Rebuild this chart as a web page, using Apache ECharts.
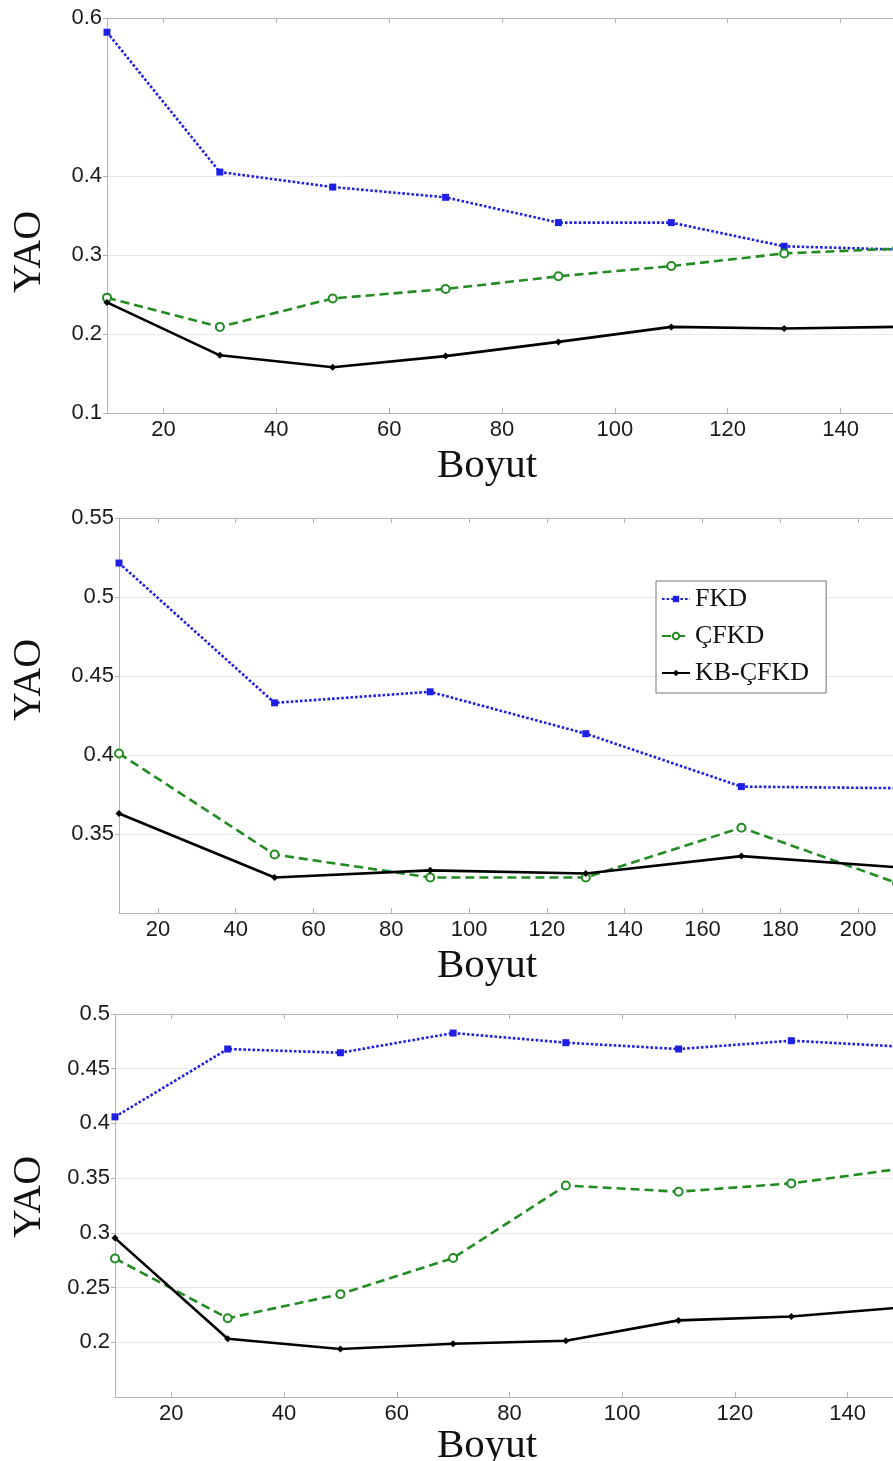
<!DOCTYPE html>
<html>
<head>
<meta charset="utf-8">
<script src="https://cdn.jsdelivr.net/npm/echarts@6/dist/echarts.min.js"></script>
<style>
  html, body { margin: 0; padding: 0; background: #fff; overflow: hidden; }
  #chart { width: 930px; height: 1461px; }
</style>
</head>
<body>
<div id="chart"></div>
<script>
// series names
const names = ["FKD", "ÇFKD", "KB-ÇFKD"];

// panel 1
const boyut1 = [10, 30, 50, 70, 90, 110, 130, 150];
const fkd1 = [0.582, 0.405, 0.386, 0.373, 0.341, 0.341, 0.311, 0.307];
const cfkd1 = [0.246, 0.209, 0.245, 0.257, 0.273, 0.286, 0.302, 0.308];
const kb1 = [0.240, 0.173, 0.158, 0.172, 0.190, 0.209, 0.207, 0.209];
const xTicks1 = [20, 40, 60, 80, 100, 120, 140];
const yTicks1 = [0.1, 0.2, 0.3, 0.4, 0.6];

// panel 2
const boyut2 = [10, 50, 90, 130, 170, 210];
const fkd2 = [0.5215, 0.433, 0.440, 0.4135, 0.380, 0.379];
const cfkd2 = [0.401, 0.337, 0.3225, 0.3225, 0.354, 0.319];
const kb2 = [0.363, 0.3225, 0.327, 0.325, 0.336, 0.329];
const xTicks2 = [20, 40, 60, 80, 100, 120, 140, 160, 180, 200];
const yTicks2 = [0.35, 0.4, 0.45, 0.5, 0.55];

// panel 3
const boyut3 = [10, 30, 50, 70, 90, 110, 130, 150];
const fkd3 = [0.406, 0.468, 0.4646, 0.4826, 0.4738, 0.468, 0.4756, 0.470];
const cfkd3 = [0.2766, 0.222, 0.244, 0.277, 0.3433, 0.3376, 0.3452, 0.359];
const kb3 = [0.2952, 0.2032, 0.1938, 0.1986, 0.2014, 0.220, 0.2236, 0.232];
const xTicks3 = [20, 40, 60, 80, 100, 120, 140];
const yTicks3 = [0.2, 0.25, 0.3, 0.35, 0.4, 0.45, 0.5];

const axisGray = "#b4b4b4";
const sans = "Liberation Sans";
const serif = "Liberation Serif";

function pairs(xs, ys) {
  return xs.map((x, i) => [x, ys[i]]);
}

function bottomX(grid, min, max, ticks) {
  return {
    type: "value", gridIndex: grid, min: min, max: max, position: "bottom",
    axisLine: { lineStyle: { color: axisGray, width: 1 } },
    axisTick: { inside: true, length: 5, customValues: ticks, lineStyle: { color: axisGray } },
    axisLabel: { customValues: ticks, color: "#1a1a1a", fontFamily: sans, fontSize: 22, margin: 6 },
    splitLine: { show: false }
  };
}

function topX(grid, min, max, ticks) {
  return {
    type: "value", gridIndex: grid, min: min, max: max, position: "top",
    axisLine: { lineStyle: { color: axisGray, width: 1 } },
    axisTick: { inside: true, length: 5, customValues: ticks, lineStyle: { color: axisGray } },
    axisLabel: { show: false },
    splitLine: { show: false }
  };
}

function leftY(grid, min, max, ticks) {
  return {
    type: "value", gridIndex: grid, min: min, max: max,
    axisLine: { show: true, lineStyle: { color: axisGray, width: 1 } },
    axisTick: { show: true, length: 4, customValues: ticks, lineStyle: { color: axisGray } },
    axisLabel: { customValues: ticks, color: "#1a1a1a", fontFamily: sans, fontSize: 22, margin: 5 },
    splitLine: { show: true, lineStyle: { color: "#e9e9e9", width: 1 } }
  };
}

function trio(xi, yi, xs, a, b, c) {
  return [
    {
      name: names[0], type: "line", xAxisIndex: xi, yAxisIndex: yi, data: pairs(xs, a),
      symbol: "rect", symbolSize: 7,
      lineStyle: { color: "#1f1fe6", width: 2.6, type: [2.6, 2] },
      itemStyle: { color: "#1f1fe6" }
    },
    {
      name: names[1], type: "line", xAxisIndex: xi, yAxisIndex: yi, data: pairs(xs, b),
      symbol: "emptyCircle", symbolSize: 8,
      lineStyle: { color: "#228b22", width: 2.6, type: [9, 5] },
      itemStyle: { color: "#228b22", borderWidth: 2.2 }
    },
    {
      name: names[2], type: "line", xAxisIndex: xi, yAxisIndex: yi, data: pairs(xs, c),
      symbol: "diamond", symbolSize: 7,
      lineStyle: { color: "#000", width: 2.6 },
      itemStyle: { color: "#000" }
    }
  ];
}

function boyutLabel(y) {
  return {
    type: "text", left: 437, top: y,
    style: { text: "Boyut", font: "41px " + serif, fill: "#111" }
  };
}

function yaoLabel(cy) {
  return {
    type: "text", x: 29, y: cy, rotation: Math.PI / 2,
    style: {
      text: "YAO", font: "40px " + serif, fill: "#111",
      align: "center", verticalAlign: "middle",
      textAlign: "center", textVerticalAlign: "middle"
    }
  };
}

const chart = echarts.init(document.getElementById("chart"), null, { renderer: "canvas" });
chart.setOption({
  animation: false,
  backgroundColor: "#fff",
  grid: [
    { left: 107, top: 18, width: 790, height: 395 },
    { left: 119, top: 518, width: 778, height: 395 },
    { left: 115, top: 1014, width: 789, height: 383 }
  ],
  xAxis: [
    bottomX(0, 10, 150, xTicks1), topX(0, 10, 150, xTicks1),
    bottomX(1, 10, 210, xTicks2), topX(1, 10, 210, xTicks2),
    bottomX(2, 10, 150, xTicks3), topX(2, 10, 150, xTicks3)
  ],
  yAxis: [
    leftY(0, 0.1, 0.6, yTicks1),
    leftY(1, 0.3, 0.55, yTicks2),
    leftY(2, 0.15, 0.5, yTicks3)
  ],
  legend: {
    data: names, orient: "vertical", left: 656, top: 581,
    itemWidth: 28, itemHeight: 8, itemGap: 11,
    padding: [5, 17, 7, 5],
    borderColor: "#777", borderWidth: 1, backgroundColor: "#fff",
    textStyle: { fontFamily: serif, fontSize: 26, color: "#111" }
  },
  graphic: [
    boyutLabel(446), boyutLabel(946), boyutLabel(1426),
    yaoLabel(252), yaoLabel(680), yaoLabel(1197)
  ],
  series: [].concat(
    trio(0, 0, boyut1, fkd1, cfkd1, kb1),
    trio(2, 1, boyut2, fkd2, cfkd2, kb2),
    trio(4, 2, boyut3, fkd3, cfkd3, kb3)
  )
});
</script>
</body>
</html>
